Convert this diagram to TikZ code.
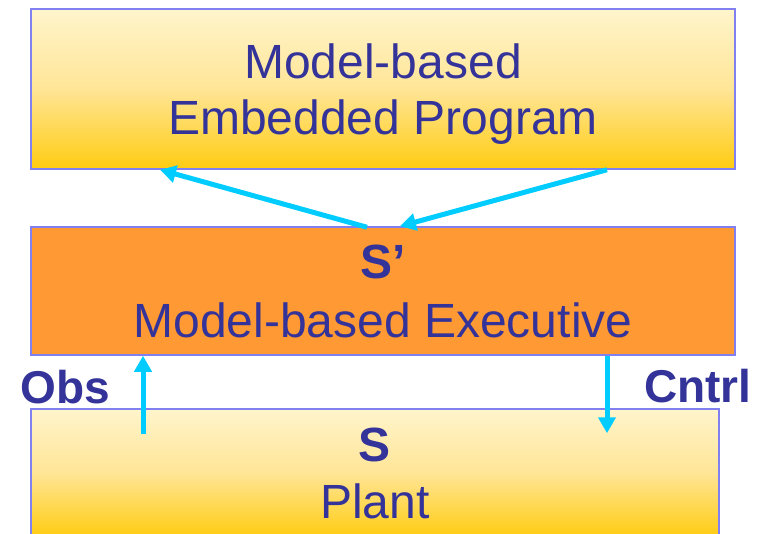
\documentclass[tikz,border=0pt]{standalone}
\usepackage{fontspec}
\setmainfont{Liberation Sans}
\usetikzlibrary{arrows.meta}
\definecolor{txt}{HTML}{333399}
\definecolor{edgecol}{HTML}{8080F0}
\definecolor{pale}{HTML}{FFF5CC}
\definecolor{midy}{HTML}{FFE596}
\definecolor{gold}{HTML}{FFCC11}
\definecolor{orng}{HTML}{FF9933}
\definecolor{flowcol}{HTML}{00CCFF}
\begin{document}
\begin{tikzpicture}[x=1pt,y=-1pt,
  box/.style={draw=edgecol, line width=1.5pt, inner sep=0pt, text=txt, align=center,
    font=\fontsize{48}{57}\selectfont},
  yellowbox/.style={box, top color=pale, bottom color=gold, middle color=midy},
  boxtext/.style={text=txt, inner sep=0pt, align=center, font=\fontsize{48}{56}\selectfont},
  lbl/.style={text=txt, inner sep=0pt, anchor=base, font=\fontsize{46}{50}\selectfont\bfseries},
  flow/.style={draw=flowcol, line width=5pt, -{Triangle[length=16pt,width=17pt]}}]
\useasboundingbox (0,0) rectangle (766,533);
\node[yellowbox, minimum width=704pt, minimum height=160pt] (top) at (383,89) {};
\node[boxtext] (toptext) at (383,94) {Model-based\\Embedded Program};
\node[box, fill=orng, minimum width=704pt, minimum height=128pt, font=\fontsize{48}{59}\selectfont] (mid) at (383,291) {\textbf{S’}\\Model-based Executive};
\node[yellowbox, minimum width=688pt, minimum height=128pt] (plant) at (375,473) {\textbf{S}\\Plant};
\node[lbl] (obs) at (65,403) {Obs};
\node[lbl] (cntrl) at (698,402) {Cntrl};
\draw[flow] (mid.north -| 367,0) ++(0,1) -- (top.south -| 160,0);
\draw[flow] (top.south -| 607,0) -- (mid.north -| 400,0);
\draw[flow] (plant.north -| 143,0) ++(0,26) -- (mid.south -| 143,0);
\draw[flow] (mid.south -| 607,0) -- ([yshift=-25pt]plant.north -| 607,0);
\end{tikzpicture}
\end{document}
